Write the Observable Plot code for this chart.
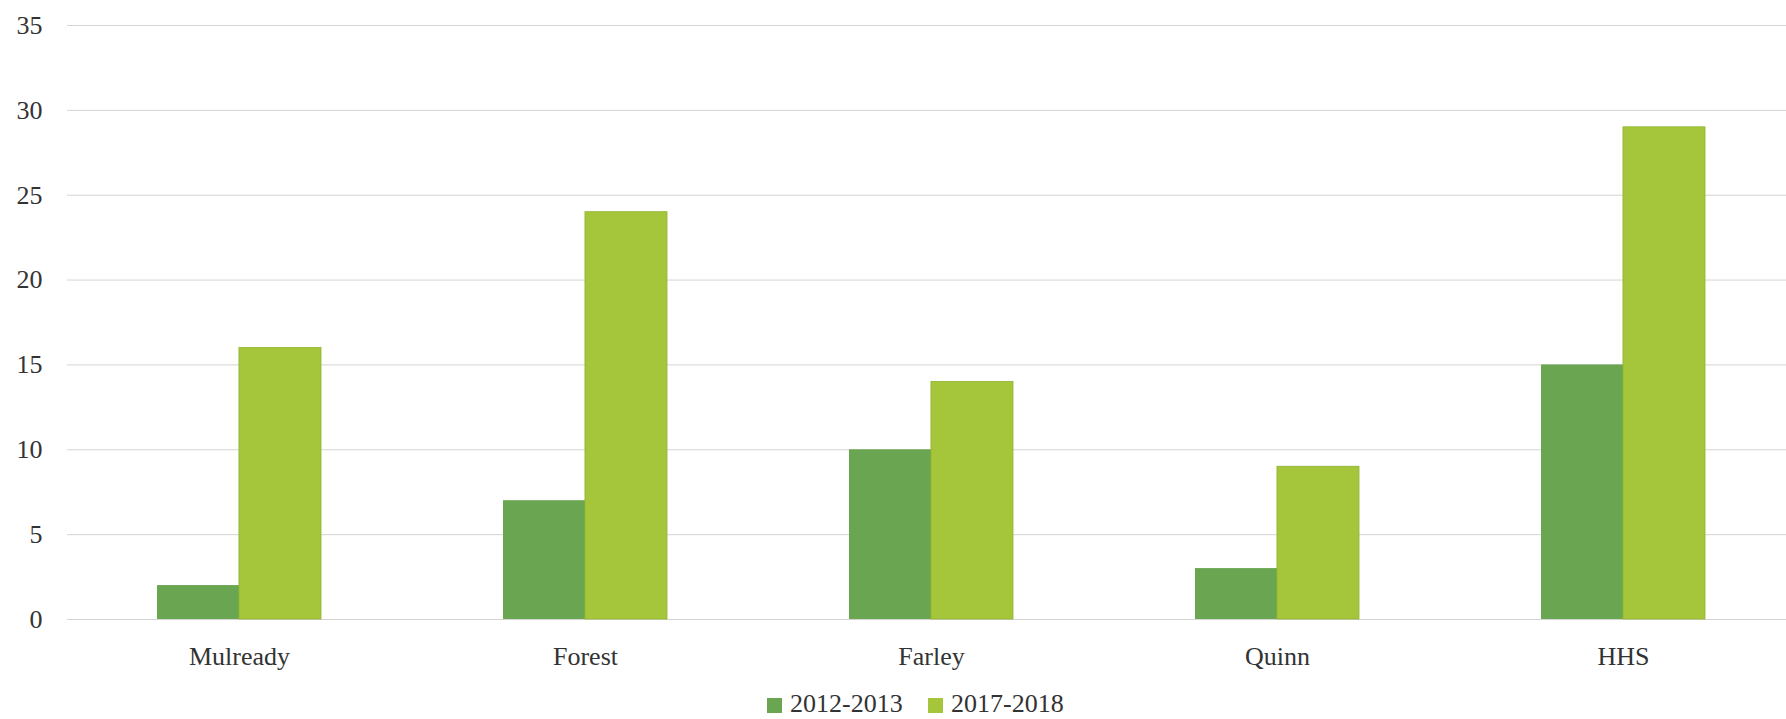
<!DOCTYPE html>
<html>
<head>
<meta charset="utf-8">
<script src="https://cdn.jsdelivr.net/npm/d3@7"></script>
<script src="https://cdn.jsdelivr.net/npm/@observablehq/plot@0.6"></script>
<style>
  html, body { margin: 0; padding: 0; background: #fff; }
  #wrap { position: relative; width: 1786px; height: 719px; overflow: hidden; font-family: "Liberation Serif", serif; color: #333; }
  #legend { position: absolute; left: 0; top: 681px; width: 1786px; height: 38px; }
  .item { position: absolute; top: 0; height: 38px; }
  .sw { position: absolute; top: 17px; left: 0; width: 15px; height: 15px; }
  .lab { position: absolute; top: 8px; left: 23px; font-size: 26px; line-height: 29px; height: 29px; white-space: nowrap; color: #333; }
</style>
</head>
<body>
<div id="wrap"><div id="chart"></div><div id="legend"></div></div>
<script>
const schools = ["Mulready", "Forest", "Farley", "Quinn", "HHS"];
const series = ["2012-2013", "2017-2018"];
const values2012 = [2, 7, 10, 3, 15];
const values2017 = [16, 24, 14, 9, 29];
const colors = ["#6aa652", "#a5c63b"];
const yTicks = [0, 5, 10, 15, 20, 25, 30, 35];

const data = schools.flatMap((s, i) => [
  {school: s, series: series[0], value: values2012[i]},
  {school: s, series: series[1], value: values2017[i]}
]);

const step = 346.5;
const xStart = 65;
const padInner = 0.527;
const half = step * (1 - padInner) / 2;

const chart = Plot.plot({
  width: 1786,
  height: 681,
  marginLeft: 67,
  marginRight: 0,
  marginTop: 25,
  marginBottom: 62,
  style: {fontFamily: "Liberation Serif, serif", fontSize: "26px", color: "#333", background: "#fff"},
  x: {domain: schools, range: [xStart, xStart + step * schools.length], paddingInner: padInner, paddingOuter: padInner / 2, label: null},
  y: {domain: [0, 35], ticks: yTicks, label: null},
  color: {domain: series, range: colors},
  marks: [
    Plot.ruleY(yTicks, {stroke: "#d4d4d4", strokeWidth: 1}),
    Plot.barY(data.filter(d => d.series === series[0]), {x: "school", y: "value", fill: "series", insetRight: half}),
    Plot.barY(data.filter(d => d.series === series[1]), {x: "school", y: "value", fill: "series", insetLeft: half, stroke: "#8fb42e", strokeWidth: 0.8}),
    Plot.axisY({ticks: yTicks, tickSize: 0, tickPadding: 25, fontSize: 26, label: null}),
    Plot.axisX({tickSize: 0, tickPadding: 27, fontSize: 26, label: null})
  ]
});
document.getElementById("chart").appendChild(chart);

const legend = document.getElementById("legend");
const lefts = [767, 928];
series.forEach((s, i) => {
  const it = document.createElement("div");
  it.className = "item";
  it.style.left = lefts[i] + "px";
  const sw = document.createElement("div");
  sw.className = "sw";
  sw.style.background = colors[i];
  const lab = document.createElement("div");
  lab.className = "lab";
  lab.textContent = s;
  it.appendChild(sw);
  it.appendChild(lab);
  legend.appendChild(it);
});
</script>
</body>
</html>
